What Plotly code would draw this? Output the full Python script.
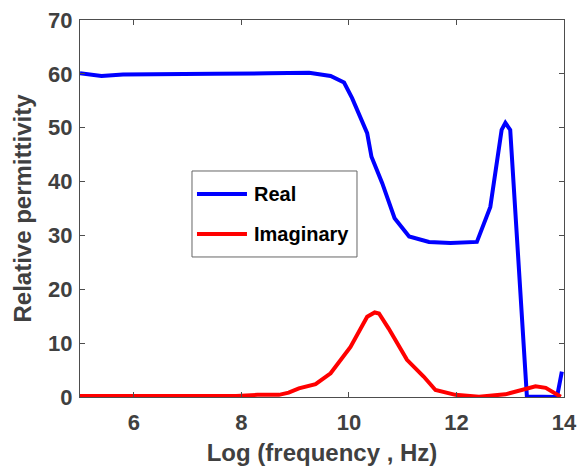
import plotly.graph_objects as go

# Real part of relative permittivity
real_x = [5.0, 5.4, 5.8, 6.5, 7.5, 8.5, 9.07, 9.26, 9.66, 9.91, 10.06, 10.22, 10.34, 10.42,
          10.62, 10.85, 11.12, 11.49, 11.89, 12.38, 12.63, 12.84, 12.91, 13.0, 13.31, 13.87, 13.96]
real_y = [60.1, 59.6, 59.9, 59.9, 60.0, 60.1, 60.2, 60.2, 59.6, 58.4, 55.5, 52.0, 49.0, 44.6,
          39.7, 33.2, 29.8, 28.8, 28.6, 28.8, 35.3, 49.6, 50.9, 49.6, 0.1, 0.0, 4.7]

# Imaginary part of relative permittivity
imag_x = [5.0, 6.0, 7.0, 7.9, 8.3, 8.7, 8.88, 9.07, 9.38, 9.66, 10.03, 10.34, 10.48, 10.56,
          10.74, 11.08, 11.39, 11.61, 11.98, 12.42, 12.91, 13.19, 13.47, 13.66, 13.94]
imag_y = [0.2, 0.2, 0.2, 0.2, 0.4, 0.4, 0.8, 1.6, 2.4, 4.4, 9.3, 14.9, 15.7, 15.5,
          12.7, 6.9, 3.8, 1.3, 0.4, 0.05, 0.5, 1.3, 2.0, 1.7, 0.05]

x_ticks = [6, 8, 10, 12, 14]
y_ticks = [0, 10, 20, 30, 40, 50, 60, 70]

series_names = ["Real", "Imaginary"]
series_colors = ["#0000ff", "#ff0000"]

font_family = "Liberation Sans, Arial, Helvetica, sans-serif"
axis_color = "#4d4d4d"
text_color = "#404040"

fig = go.Figure()
fig.add_trace(go.Scatter(x=real_x, y=real_y, mode="lines", name=series_names[0],
                         line=dict(color=series_colors[0], width=4)))
fig.add_trace(go.Scatter(x=imag_x, y=imag_y, mode="lines", name=series_names[1],
                         line=dict(color=series_colors[1], width=4)))

axis_common = dict(
    showgrid=False, zeroline=False, showline=True, linecolor=axis_color, linewidth=1,
    mirror="ticks", ticks="inside", ticklen=5, tickcolor=axis_color, tickwidth=1,
    automargin=False,
    tickfont=dict(family=font_family, size=22, color=text_color, weight="bold"),
)

# Custom legend box (MATLAB style) in paper coordinates
shapes = [dict(type="rect", xref="paper", yref="paper", x0=0.2314, x1=0.5723, y0=0.3714, y1=0.5995,
               line=dict(color="#666666", width=1), fillcolor="white", layer="above")]
annotations = []
legend_rows_y = [0.5385, 0.4324]
for name, color, ly in zip(series_names, series_colors, legend_rows_y):
    shapes.append(dict(type="line", xref="paper", yref="paper", x0=0.2417, x1=0.3450, y0=ly, y1=ly,
                       line=dict(color=color, width=4), layer="above"))
    annotations.append(dict(xref="paper", yref="paper", x=0.3554, y=ly, xanchor="left", yanchor="middle",
                            text=name, showarrow=False,
                            font=dict(family=font_family, size=20, color="black", weight="bold")))

fig.update_layout(
    width=588, height=469,
    margin=dict(l=80, r=24, t=20, b=72),
    paper_bgcolor="white", plot_bgcolor="white",
    showlegend=False,
    shapes=shapes,
    annotations=annotations,
    xaxis=dict(range=[5, 14], tickvals=x_ticks, ticklabelstandoff=6,
               title=dict(text="Log (frequency , Hz)", standoff=9,
                          font=dict(family=font_family, size=24, color=text_color, weight="bold")),
               **axis_common),
    yaxis=dict(range=[0, 70], tickvals=y_ticks, ticklabelstandoff=2,
               title=dict(text="Relative permittivity", standoff=9,
                          font=dict(family=font_family, size=24, color=text_color, weight="bold")),
               **axis_common),
)

fig.write_html("out.html")
